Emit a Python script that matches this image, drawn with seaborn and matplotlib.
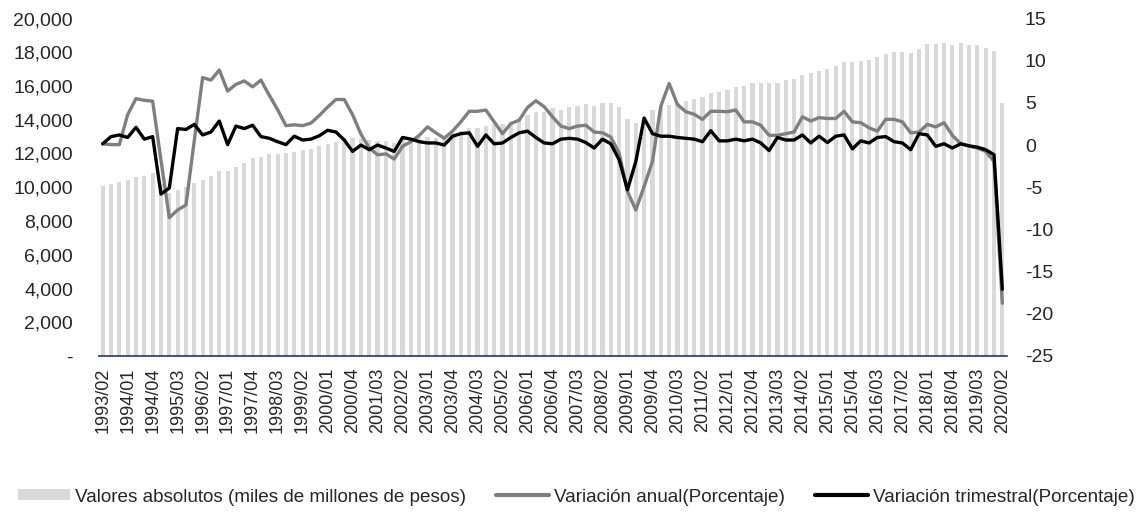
import numpy as np
import pandas as pd
import matplotlib
matplotlib.use("Agg")
import matplotlib.pyplot as plt
from matplotlib.patches import Patch
from matplotlib.lines import Line2D
from matplotlib.ticker import FuncFormatter
import seaborn as sns

# ---------------- data ----------------
years = list(range(1993, 2021))
periodos = [f"{y}/{q:02d}" for y in years for q in range(1, 5)]
periodos = periodos[1:periodos.index("2020/02") + 1]   # 1993/02 .. 2020/02

valores = [
    10080, 10175, 10310, 10410, 10590, 10670, 10825, 10180, 9640, 9840,
    10035, 10270, 10430, 10670, 10980, 10980, 11220, 11420, 11720, 11815,
    11975, 11975, 12050, 12110, 12205, 12265, 12450, 12550, 12700, 12900,
    12900, 12840, 12800, 12740, 12740, 12600, 12840, 12900, 12960, 13000,
    12940, 13105, 13200, 13335, 13500, 13500, 13635, 13750, 13750, 13890,
    14030, 14285, 14480, 14480, 14680, 14580, 14735, 14820, 14940, 14820,
    15015, 15015, 14775, 14030, 13790, 14180, 14580, 14820, 14880, 14980,
    15115, 15215, 15330, 15605, 15665, 15765, 15925, 16000, 16165, 16200,
    16200, 16200, 16360, 16435, 16650, 16755, 16895, 16995, 17205, 17445,
    17445, 17505, 17545, 17740, 17900, 18040, 18040, 17980, 18180, 18490,
    18490, 18530, 18435, 18530, 18435, 18435, 18275, 18095, 14980,
]

var_anual = [
    0.15, 0.05, 0.05, 3.6, 5.5, 5.3, 5.2, -1.8, -8.6, -7.7,
    -7.1, 0.55, 8.0, 7.7, 8.9, 6.4, 7.2, 7.6, 6.9, 7.7,
    5.9, 4.2, 2.3, 2.4, 2.3, 2.6, 3.5, 4.5, 5.4, 5.4,
    3.6, 1.3, -0.35, -1.15, -1.05, -1.65, -0.15, 0.4, 1.15, 2.15,
    1.45, 0.8, 1.65, 2.75, 4.0, 4.0, 4.15, 2.75, 1.35, 2.55,
    2.95, 4.45, 5.25, 4.55, 3.35, 2.25, 1.95, 2.25, 2.35, 1.55,
    1.45, 0.95, -0.95, -5.5, -7.7, -4.9, -1.95, 4.6, 7.3, 4.8,
    3.95, 3.65, 3.05, 4.0, 4.0, 3.95, 4.15, 2.75, 2.75, 2.35,
    1.15, 1.15, 1.35, 1.55, 3.35, 2.85, 3.25, 3.15, 3.15, 4.0,
    2.75, 2.65, 2.05, 1.65, 3.05, 3.05, 2.75, 1.45, 1.55, 2.45,
    2.15, 2.65, 1.15, 0.15, -0.1, -0.35, -0.75, -1.95, -18.75,
]

var_trimestral = [
    0.15, 1.0, 1.2, 0.9, 2.1, 0.7, 1.0, -5.8, -5.1, 1.95,
    1.85, 2.45, 1.2, 1.55, 2.85, 0.05, 2.25, 1.95, 2.35, 1.0,
    0.8, 0.4, 0.05, 1.05, 0.6, 0.7, 1.1, 1.75, 1.55, 0.6,
    -0.75, 0.0, -0.55, 0.0, -0.35, -0.75, 0.9, 0.7, 0.4, 0.25,
    0.25, 0.0, 1.05, 1.35, 1.45, -0.15, 1.2, 0.15, 0.25, 0.9,
    1.45, 1.65, 0.9, 0.25, 0.15, 0.7, 0.8, 0.7, 0.3, -0.35,
    0.7, 0.15, -1.75, -5.3, -1.95, 3.2, 1.35, 1.05, 1.05, 0.9,
    0.8, 0.7, 0.4, 1.7, 0.5, 0.5, 0.7, 0.5, 0.7, 0.25,
    -0.65, 0.9, 0.6, 0.6, 1.2, 0.25, 1.05, 0.3, 1.05, 1.2,
    -0.45, 0.5, 0.25, 0.9, 1.0, 0.4, 0.25, -0.55, 1.35, 1.2,
    -0.15, 0.15, -0.35, 0.15, -0.1, -0.25, -0.55, -1.15, -17.1,
]

etiquetas = [
    "Valores absolutos (miles de millones de pesos)",
    "Variación anual(Porcentaje)",
    "Variación trimestral(Porcentaje)",
]

df = pd.DataFrame({
    "periodo": periodos,
    "pos": np.arange(len(periodos)),
    "valor": valores,
    "anual": var_anual,
    "trimestral": var_trimestral,
})

# ---------------- style ----------------
sns.set_style("white")
plt.rcParams["font.family"] = ["Liberation Sans", "DejaVu Sans"]
plt.rcParams["axes.unicode_minus"] = False

BAR_C = "#d9d9d9"
ANUAL_C = "#7f7f7f"
TRIM_C = "#000000"
TXT_C = "#262626"

W, H = 1139, 514
fig = plt.figure(figsize=(W / 100, H / 100), dpi=100)
left, right, top, bottom = 98.5, 1006.5, 18.5, 356
ax = fig.add_axes([left / W, 1 - bottom / H, (right - left) / W, (bottom - top) / H])

sns.barplot(data=df, x="periodo", y="valor", color=BAR_C, saturation=1,
            width=0.5, errorbar=None, ax=ax, linewidth=0)

ax2 = ax.twinx()
sns.lineplot(data=df, x="pos", y="anual", color=ANUAL_C, linewidth=2.4,
             ax=ax2, legend=False)
sns.lineplot(data=df, x="pos", y="trimestral", color=TRIM_C, linewidth=2.4,
             ax=ax2, legend=False)

n = len(periodos)
ax.set_xlim(-0.5, n - 0.5)
ax.set_ylim(0, 20000)
ax2.set_ylim(-25, 15)

ax.set_yticks(np.arange(0, 20001, 2000))
ax.yaxis.set_major_formatter(FuncFormatter(lambda v, p: "-" if v == 0 else f"{int(v):,}"))
ax2.set_yticks(np.arange(-25, 16, 5))
ax2.yaxis.set_major_formatter(FuncFormatter(lambda v, p: f"{int(round(v))}"))

ax.set_xticks(np.arange(0, n, 3))
ax.set_xticklabels(periodos[::3], rotation=90, fontsize=13, color=TXT_C)
ax.tick_params(axis="x", length=0, pad=8.5)
ax.tick_params(axis="y", length=0, pad=18.4, labelsize=14, labelcolor=TXT_C)
ax2.tick_params(axis="y", length=0, pad=13.3, labelsize=14, labelcolor=TXT_C)

for a in (ax, ax2):
    a.set_xlabel("")
    a.set_ylabel("")
    a.grid(False)
    for s in ("top", "left", "right"):
        a.spines[s].set_visible(False)
ax2.spines["bottom"].set_visible(False)
ax.spines["bottom"].set_color("#1f3864")
ax.spines["bottom"].set_linewidth(1.2)

handles = [
    Patch(facecolor=BAR_C, edgecolor="none"),
    Line2D([0], [0], color=ANUAL_C, lw=3),
    Line2D([0], [0], color=TRIM_C, lw=3),
]
fig.legend(handles, etiquetas, loc="center", ncol=3, frameon=False,
           bbox_to_anchor=(576 / W, 1 - 497 / H), fontsize=13.6,
           handlelength=2.8, handleheight=0.5, handletextpad=0.25,
           columnspacing=1.6, labelcolor=TXT_C)

fig.savefig("out.png", dpi=100)
